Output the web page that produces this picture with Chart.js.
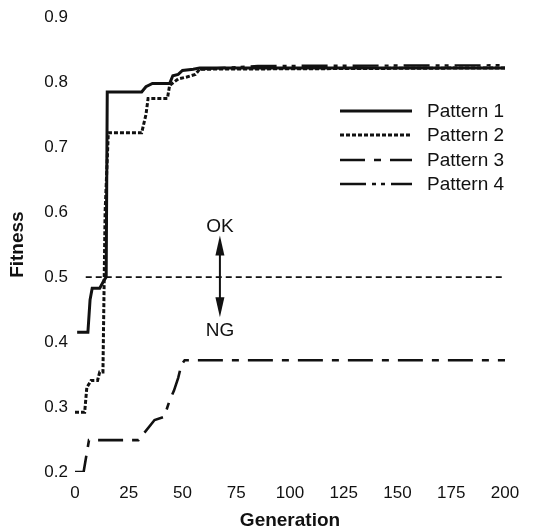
<!DOCTYPE html>
<html><head><meta charset="utf-8">
<script src="https://cdn.jsdelivr.net/npm/chart.js@4.4.1/dist/chart.umd.min.js"></script>
<style>html,body{margin:0;padding:0;background:#fff}</style>
</head><body>
<canvas id="c" width="546" height="532"></canvas>
<script>
// ---- data ----
const seriesNames = ['Pattern 1', 'Pattern 2', 'Pattern 3', 'Pattern 4'];

const p1Gen = [1, 6, 7, 8, 11.5, 13.5, 14.5, 15, 31, 33, 36, 44, 45.5, 48, 50, 55, 58, 200];
const p1Fit = [0.415, 0.415, 0.465, 0.483, 0.483, 0.495, 0.5, 0.785, 0.785, 0.793, 0.798, 0.798, 0.81, 0.812, 0.818, 0.82, 0.822, 0.822];

const p2Gen = [0, 4.5, 5.5, 7.5, 10.5, 11.5, 13, 14, 15.5, 31, 33, 34, 43, 44, 46, 48, 52, 56, 58, 200];
const p2Fit = [0.292, 0.292, 0.33, 0.341, 0.341, 0.354, 0.354, 0.6, 0.722, 0.722, 0.75, 0.775, 0.775, 0.795, 0.8, 0.805, 0.808, 0.812, 0.82, 0.822];

const p3Gen = [0, 4, 6.5, 29.5, 37, 41.5, 44, 46, 48, 49.5, 51, 200];
const p3Fit = [0.2, 0.2, 0.249, 0.249, 0.28, 0.285, 0.31, 0.325, 0.345, 0.365, 0.372, 0.372];

const p4Gen = [58, 85, 200];
const p4Fit = [0.82, 0.825, 0.826];

const thresholdGen = [5, 200];
const thresholdFit = [0.5, 0.5];

const xTickValues = [0, 25, 50, 75, 100, 125, 150, 175, 200];
const xTickLabels = ['0', '25', '50', '75', '100', '125', '150', '175', '200'];
const yTickLabels = ['0.2', '0.3', '0.4', '0.5', '0.6', '0.7', '0.8', '0.9'];

// annotation anchors (in data units)
const arrowGen = 67.4;
const arrowTop = 0.564, arrowBottom = 0.438;
const okLabelFit = 0.578, ngLabelFit = 0.418;

// ---- chart ----
const FONT = '"Liberation Sans", Arial, sans-serif';
const toPts = (xs, ys) => xs.map((x, i) => ({x, y: ys[i]}));

const lineStyles = [
  {dash: [], width: 3},
  {dash: [4, 2], width: 3},
  {dash: [25, 9, 7, 9], width: 2.6},
  {dash: [26, 6, 4, 5, 4, 6], width: 2.4},
];

const seriesData = [[p1Gen, p1Fit], [p2Gen, p2Fit], [p3Gen, p3Fit], [p4Gen, p4Fit]];
const datasets = seriesData.map((s, i) => ({
  label: seriesNames[i],
  data: toPts(s[0], s[1]),
  borderColor: '#111',
  borderWidth: lineStyles[i].width,
  borderDash: lineStyles[i].dash,
  pointRadius: 0,
  tension: 0,
  fill: false,
  order: 4 - i,
}));
datasets.push({
  label: 'threshold',
  data: toPts(thresholdGen, thresholdFit),
  borderColor: '#111',
  borderWidth: 1.6,
  borderDash: [6, 4],
  pointRadius: 0,
  fill: false,
  order: 10,
});

const overlay = {
  id: 'overlay',
  afterDatasetsDraw(chart) {
    const ctx = chart.ctx;
    const xs = chart.scales.x, ys = chart.scales.y;
    ctx.save();
    // arrow
    const ax = xs.getPixelForValue(arrowGen);
    const yt = ys.getPixelForValue(arrowTop), yb = ys.getPixelForValue(arrowBottom);
    const headL = 20, headW = 4.5;
    ctx.strokeStyle = '#111'; ctx.fillStyle = '#111'; ctx.lineWidth = 2; ctx.setLineDash([]);
    ctx.beginPath(); ctx.moveTo(ax, yt + headL - 2); ctx.lineTo(ax, yb - headL + 2); ctx.stroke();
    ctx.beginPath(); ctx.moveTo(ax, yt); ctx.lineTo(ax - headW, yt + headL); ctx.lineTo(ax + headW, yt + headL); ctx.closePath(); ctx.fill();
    ctx.beginPath(); ctx.moveTo(ax, yb); ctx.lineTo(ax - headW, yb - headL); ctx.lineTo(ax + headW, yb - headL); ctx.closePath(); ctx.fill();
    ctx.font = '19px ' + FONT;
    ctx.textAlign = 'center'; ctx.textBaseline = 'middle';
    ctx.fillText('OK', ax, ys.getPixelForValue(okLabelFit));
    ctx.fillText('NG', ax, ys.getPixelForValue(ngLabelFit));
    // legend
    const rows = [111, 135, 160, 184];
    const lx0 = 340, lx1 = 412, tx = 427;
    ctx.textAlign = 'left';
    for (let i = 0; i < 4; i++) {
      ctx.lineWidth = lineStyles[i].width;
      ctx.setLineDash(lineStyles[i].dash);
      ctx.beginPath(); ctx.moveTo(lx0, rows[i]); ctx.lineTo(lx1, rows[i]); ctx.stroke();
      ctx.setLineDash([]);
      ctx.fillText(seriesNames[i], tx, rows[i] + 1);
    }
    ctx.restore();
  }
};

new Chart(document.getElementById('c'), {
  type: 'line',
  data: {datasets},
  plugins: [overlay],
  options: {
    responsive: false,
    animation: false,
    layout: {padding: {left: 0, right: 41, top: 16, bottom: 0}},
    plugins: {legend: {display: false}, tooltip: {enabled: false}},
    scales: {
      x: {
        type: 'linear', min: 0, max: 200,
        grid: {display: false, drawTicks: false},
        border: {display: false},
        afterFit: (s) => { s.height = 60; },
        ticks: {
          stepSize: 25, padding: 11, color: '#111', maxRotation: 0,
          font: {family: FONT, size: 17},
          callback: (v) => { const k = xTickValues.indexOf(v); return k >= 0 ? xTickLabels[k] : ''; }
        },
        title: {display: true, text: 'Generation', color: '#111',
          font: {family: FONT, size: 19, weight: 'bold'}, padding: {top: 0, bottom: 0}}
      },
      y: {
        min: 0.2, max: 0.9,
        grid: {display: false, drawTicks: false},
        border: {display: false},
        afterFit: (s) => { s.width = 75; },
        ticks: {
          stepSize: 0.1, padding: 7, color: '#111',
          font: {family: FONT, size: 17},
          callback: (v) => yTickLabels[Math.round((v - 0.2) * 10)] ?? ''
        },
        title: {display: true, text: 'Fitness', color: '#111',
          font: {family: FONT, size: 19, weight: 'bold'}, padding: {top: 6, bottom: 0}}
      }
    }
  }
});
</script>
</body></html>
